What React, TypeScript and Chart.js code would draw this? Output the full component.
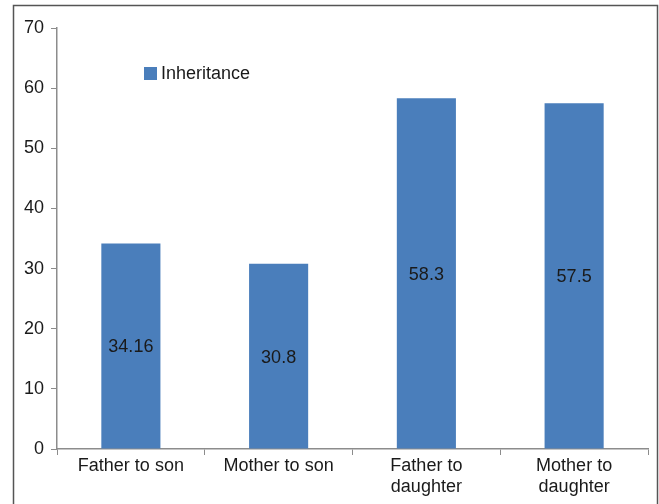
import React, { useEffect, useRef } from "react";
import { Chart, registerables } from "chart.js";

Chart.register(...registerables);

const categories: string[][] = [
  ["Father to son"],
  ["Mother to son"],
  ["Father to", "daughter"],
  ["Mother to", "daughter"],
];
const seriesName = "Inheritance";
const values = [34.16, 30.8, 58.3, 57.5];
const valueLabels = ["34.16", "30.8", "58.3", "57.5"];
const yTicks = [0, 10, 20, 30, 40, 50, 60, 70];

const FONT = '"Liberation Sans", Arial, sans-serif';
const BAR = "#4a7ebb";
const AXIS = "#8c8c8c";
const TEXT = "#1a1a1a";

const framePlugin = {
  id: "frame",
  beforeDraw(chart: any) {
    const ctx = chart.ctx;
    ctx.save();
    ctx.fillStyle = "#ffffff";
    ctx.fillRect(0, 0, chart.width, chart.height);
    ctx.strokeStyle = "#555555";
    ctx.lineWidth = 1.5;
    ctx.beginPath();
    ctx.moveTo(13.5, chart.height + 5);
    ctx.lineTo(13.5, 5.5);
    ctx.lineTo(657.5, 5.5);
    ctx.lineTo(657.5, chart.height + 5);
    ctx.stroke();
    ctx.restore();
  },
};

const labelPlugin = {
  id: "valueLabels",
  afterDatasetsDraw(chart: any) {
    const ctx = chart.ctx;
    const meta = chart.getDatasetMeta(0);
    ctx.save();
    ctx.font = `18px ${FONT}`;
    ctx.fillStyle = TEXT;
    ctx.textAlign = "center";
    ctx.textBaseline = "middle";
    meta.data.forEach((bar: any, i: number) => {
      const { x, y, base } = bar.getProps(["x", "y", "base"], true);
      ctx.fillText(valueLabels[i], x, (y + base) / 2 + 1.5);
    });
    ctx.restore();
  },
};

const legendPlugin = {
  id: "customLegend",
  afterDraw(chart: any) {
    const ctx = chart.ctx;
    const ds = chart.data.datasets[0];
    ctx.save();
    ctx.fillStyle = ds.backgroundColor;
    ctx.fillRect(144, 67, 13, 13);
    ctx.font = `18px ${FONT}`;
    ctx.fillStyle = TEXT;
    ctx.textAlign = "left";
    ctx.textBaseline = "middle";
    ctx.fillText(ds.label, 161, 74.5);
    ctx.restore();
  },
};

export default function App() {
  const ref = useRef<HTMLCanvasElement | null>(null);

  useEffect(() => {
    if (!ref.current) return;
    const chart = new Chart(ref.current, {
      type: "bar",
      data: {
        labels: categories as any,
        datasets: [
          {
            label: seriesName,
            data: values,
            backgroundColor: BAR,
            borderWidth: 0,
            barPercentage: 0.4,
            categoryPercentage: 1,
          },
        ],
      },
      options: {
        animation: false,
        responsive: false,
        maintainAspectRatio: false,
        layout: { padding: { top: 28, right: 11, left: 0, bottom: 0 } },
        plugins: {
          legend: { display: false },
          tooltip: { enabled: false },
        },
        scales: {
          x: {
            offset: true,
            grid: {
              display: true,
              offset: true,
              drawOnChartArea: false,
              drawTicks: true,
              tickLength: 6,
              color: AXIS,
            },
            border: { display: true, color: AXIS, width: 1.5 },
            ticks: {
              color: TEXT,
              font: { family: FONT, size: 18, lineHeight: 1.15 },
              padding: 1,
              maxRotation: 0,
              autoSkip: false,
            },
            afterFit(scale: any) {
              scale.height = 55;
            },
          },
          y: {
            min: 0,
            max: 70,
            afterBuildTicks(scale: any) {
              scale.ticks = yTicks.map((v) => ({ value: v }));
            },
            grid: {
              display: true,
              drawOnChartArea: false,
              drawTicks: true,
              tickLength: 6,
              color: AXIS,
            },
            border: { display: true, color: AXIS, width: 1.5 },
            ticks: {
              color: TEXT,
              font: { family: FONT, size: 18 },
              padding: 7,
            },
            afterFit(scale: any) {
              scale.width = 57;
            },
          },
        },
      },
      plugins: [framePlugin, labelPlugin, legendPlugin],
    });
    return () => chart.destroy();
  }, []);

  return (
    <div style={{ position: "absolute", left: 0, top: 0, width: 659, height: 504 }}>
      <canvas ref={ref} width={659} height={504} style={{ width: 659, height: 504, display: "block" }} />
    </div>
  );
}
